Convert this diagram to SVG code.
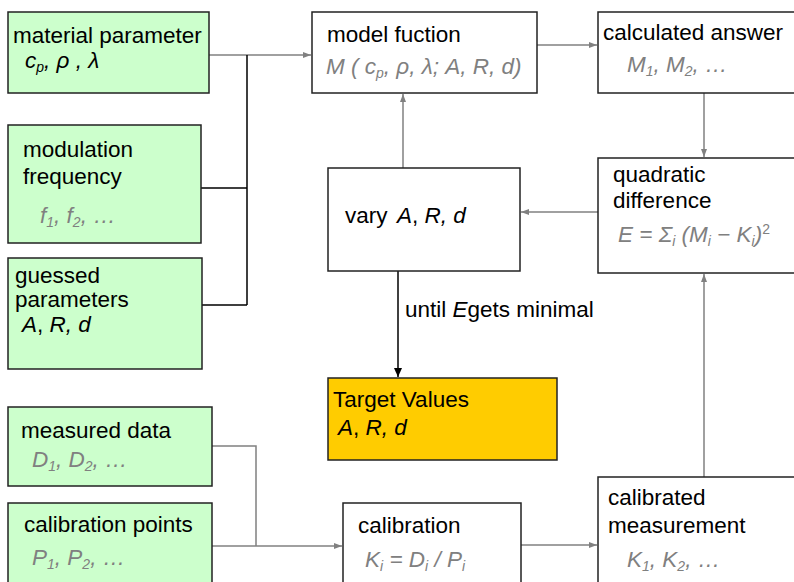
<svg xmlns="http://www.w3.org/2000/svg" width="794" height="582" viewBox="0 0 794 582">
<style>
text{font-family:"Liberation Sans",Arial,sans-serif;font-size:22.5px;fill:#000}
.g{fill:#808080;font-style:italic}
.i{font-style:italic}
.s{font-size:14px}
.box{fill:#fff;stroke:#222;stroke-width:1.5}
.grn{fill:#ccffcc;stroke:#222;stroke-width:1.5}
.tgt{fill:#ffcc00;stroke:#222;stroke-width:1.5}
.cg{fill:none;stroke:#808080;stroke-width:1.5}
.cb{fill:none;stroke:#000;stroke-width:1.5}
</style>
<defs>
<marker id="ag" markerUnits="userSpaceOnUse" markerWidth="10" markerHeight="10" refX="9" refY="5" orient="auto"><path d="M1,2 L9,5 L1,8 Z" fill="#808080"/></marker>
<marker id="ab" markerUnits="userSpaceOnUse" markerWidth="10" markerHeight="12" refX="9" refY="6" orient="auto"><path d="M0,2 L9,6 L0,10 Z" fill="#000"/></marker>
</defs>
<g id="connectors">
<path class="cg" d="M209,55 H311" marker-end="url(#ag)"/>
<path class="cb" d="M247,55 V305 M201,188 H247 M202,305 H247"/>
<path class="cg" d="M537,45 H597" marker-end="url(#ag)"/>
<path class="cg" d="M704,93 V157" marker-end="url(#ag)"/>
<path class="cg" d="M598,212 H521" marker-end="url(#ag)"/>
<path class="cg" d="M403,168 V94" marker-end="url(#ag)"/>
<path class="cb" d="M398,271 V377" marker-end="url(#ab)"/>
<path class="cg" d="M212,446 H256 V546"/>
<path class="cg" d="M212,546 H342" marker-end="url(#ag)"/>
<path class="cg" d="M521,545 H597" marker-end="url(#ag)"/>
<path class="cg" d="M704,477 V274" marker-end="url(#ag)"/>
<text x="405" y="317">until <tspan class="i">E</tspan>gets minimal</text>
</g>
<g id="material">
<rect class="grn" x="8" y="12" width="201" height="81"/>
<text x="13" y="43">material parameter</text>
<text x="25" y="68" class="i">c<tspan class="s" dy="4">p</tspan><tspan dy="-4">, ρ , λ</tspan></text>
</g>
<g id="modulation">
<rect class="grn" x="8" y="125" width="193" height="118"/>
<text x="23" y="157">modulation</text>
<text x="23" y="184">frequency</text>
<text x="40" y="223" class="g">f<tspan class="s" dy="4">1</tspan><tspan dy="-4">, f</tspan><tspan class="s" dy="4">2</tspan><tspan dy="-4">, …</tspan></text>
</g>
<g id="guessed">
<rect class="grn" x="8" y="258" width="194" height="111"/>
<text x="15" y="283">guessed</text>
<text x="15" y="307">parameters</text>
<text x="22" y="332" class="i">A<tspan font-style="normal">,</tspan> R, d</text>
</g>
<g id="model">
<rect class="box" x="312" y="12" width="225" height="81"/>
<text x="327" y="42">model fuction</text>
<text x="326" y="74" class="g">M ( c<tspan class="s" dy="4">p</tspan><tspan dy="-4">, ρ, λ; A, R, d)</tspan></text>
</g>
<g id="calculated">
<rect class="box" x="598" y="12" width="210" height="81"/>
<text x="603" y="40">calculated answer</text>
<text x="627" y="72" class="g">M<tspan class="s" dy="4">1</tspan><tspan dy="-4">, M</tspan><tspan class="s" dy="4">2</tspan><tspan dy="-4">, …</tspan></text>
</g>
<g id="quadratic">
<rect class="box" x="598" y="158" width="210" height="115"/>
<text x="613" y="182">quadratic</text>
<text x="613" y="208">difference</text>
<text x="618" y="242" class="g">E = Σ<tspan class="s" dy="4">i</tspan><tspan dy="-4"> (M</tspan><tspan class="s" dy="4">i</tspan><tspan dy="-4"> − K</tspan><tspan class="s" dy="4">i</tspan><tspan dy="-4">)</tspan><tspan class="s" dy="-8" font-style="normal">2</tspan></text>
</g>
<g id="vary">
<rect class="box" x="328" y="168" width="192" height="103"/>
<text x="345" y="223">vary<tspan class="i" x="397">A</tspan>, <tspan class="i">R, d</tspan></text>
</g>
<g id="target">
<rect class="tgt" x="328" y="378" width="229" height="82"/>
<text x="333" y="407">Target Values</text>
<text x="338" y="435" class="i">A<tspan font-style="normal">,</tspan> R, d</text>
</g>
<g id="measured">
<rect class="grn" x="8" y="407" width="204" height="79"/>
<text x="21" y="438">measured data</text>
<text x="32" y="467" class="g">D<tspan class="s" dy="4">1</tspan><tspan dy="-4">, D</tspan><tspan class="s" dy="4">2</tspan><tspan dy="-4">, …</tspan></text>
</g>
<g id="calpoints">
<rect class="grn" x="8" y="503" width="204" height="100"/>
<text x="24" y="532">calibration points</text>
<text x="32" y="565" class="g">P<tspan class="s" dy="4">1</tspan><tspan dy="-4">, P</tspan><tspan class="s" dy="4">2</tspan><tspan dy="-4">, …</tspan></text>
</g>
<g id="calibration">
<rect class="box" x="343" y="503" width="178" height="100"/>
<text x="358" y="533">calibration</text>
<text x="365" y="567" class="g">K<tspan class="s" dy="4">i</tspan><tspan dy="-4"> = D</tspan><tspan class="s" dy="4">i</tspan><tspan dy="-4"> / P</tspan><tspan class="s" dy="4">i</tspan></text>
</g>
<g id="calibrated">
<rect class="box" x="598" y="477" width="210" height="126"/>
<text x="608" y="505">calibrated</text>
<text x="608" y="533">measurement</text>
<text x="627" y="567" class="g">K<tspan class="s" dy="4">1</tspan><tspan dy="-4">, K</tspan><tspan class="s" dy="4">2</tspan><tspan dy="-4">, …</tspan></text>
</g>
</svg>
